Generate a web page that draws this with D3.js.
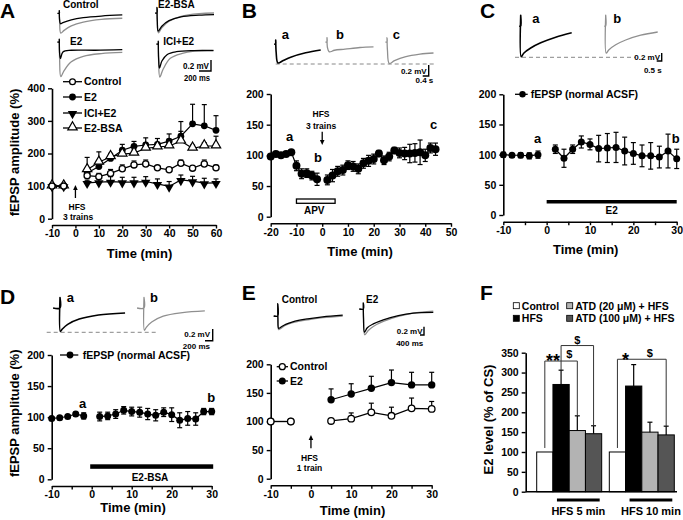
<!DOCTYPE html>
<html><head><meta charset="utf-8">
<script src="https://cdn.jsdelivr.net/npm/d3@7/dist/d3.min.js"></script>
<style>html,body{margin:0;padding:0;background:#fff;}</style>
</head><body>
<script>
// ================= DATA =================
// Panel A: fEPSP amplitude (%) vs time (min)
const timeA = [-10,-5,5,10,15,20,25,30,35,40,45,50,55,60];
const ctrlA    = [100,100,132,129,139,153,165,168,156,150,170,155,168,156];
const ctrlAErr = [0,0,10,10,12,12,12,12,6,5,10,8,12,8];
const e2A      = [100,100,140,160,185,210,222,226,228,238,253,291,285,271];
const e2AErr   = [0,0,10,15,15,18,15,22,18,22,45,60,65,45];
const iciA     = [100,100,110,112,114,112,112,114,107,99,119,115,109,110];
const iciAErr  = [0,0,8,15,15,15,15,15,15,15,15,15,15,12];
const bsaA     = [100,100,150,173,190,198,201,216,220,223,238,216,223,223];
const bsaAErr  = [0,0,38,32,10,10,10,12,10,10,30,10,10,30];
const legendA  = ["Control","E2","ICI+E2","E2-BSA"];

// Panel B
const timeB = [-20,-18,-16,-14,-12,-10,-8,-6,-4,-2,2,4,6,8,10,12,14,16,18,20,22,24,26,28,30,32,34,36,38,40,42,44];
const valB  = [98,102,100,102,105,83,70,71,67,61,60,67,74,76,84,82,78,87,91,94,103,92,98,108,104,103,103,104,105,100,112,110];
const errB  = [4,3,3,3,3,8,8,7,7,10,8,10,8,8,7,8,8,8,9,8,5,7,7,5,8,10,15,15,20,10,8,10];

// Panel C
const timeC = [-10,-8,-6,-4,-2,2,4,6,8,10,12,14,16,18,20,22,24,26,28,30];
const valC  = [100,99,99,98,100,109,94,109,121,117,110,111,112,106,102,98,98,96,106,93];
const errC  = [4,3,4,5,6,7,15,7,10,9,22,24,25,23,18,18,22,18,28,16];

// Panel D
const timeD = [-10,-8,-6,-4,-2,2,4,6,8,10,12,14,16,18,20,22,24,26,28,30];
const valD  = [98,99,101,105,102,101,102,105,111,109,108,105,103,108,104,95,98,97,109,109];
const errD  = [3,3,3,3,5,7,6,7,6,7,8,9,9,7,11,12,11,10,5,5];

// Panel E
const timeE    = [-10,-5,5,10,15,20,25,30];
const ctrlE    = [100,100,101,105,116,110,123,122];
const ctrlEErr = [0,0,4,10,16,15,18,13];
const e2E      = [100,100,138,148,158,168,164,164];
const e2EErr   = [0,0,19,18,21,22,22,22];

// Panel F: E2 level (% of CS)
const groupsF = ["HFS 5 min","HFS 10 min"];
const condF   = ["Control","HFS","ATD (20 \u03bcM) + HFS","ATD (100 \u03bcM) + HFS"];
const valF    = [[100,270,154,146],[100,266,150,143]];
const errF    = [[0,36,37,20],[0,54,25,22]];

// Example traces: [time (ms), amplitude (mV)]
const trA_ctrl_k = [[-30,0],[0,0],[0,0.05],[5,-0.12],[20,-0.19],[60,-0.17],[200,-0.12],[400,-0.08],[700,-0.05],[1050,-0.03]];
const trA_ctrl_g = [[-30,0],[0,0],[0,0.05],[5,-0.15],[25,-0.36],[80,-0.31],[200,-0.23],[400,-0.16],[700,-0.11],[1050,-0.09]];
const trA_bsa_k  = [[-30,0],[0,0],[0,0.1],[5,-0.15],[20,-0.33],[80,-0.24],[200,-0.14],[400,-0.07],[700,-0.04],[950,-0.03]];
const trA_bsa_g  = [[-30,0],[0,0],[0,0.1],[5,-0.15],[25,-0.36],[80,-0.27],[200,-0.15],[400,-0.06],[700,-0.01],[950,0]];
const trA_e2_k   = [[-30,0],[0,0],[0,0.05],[5,-0.2],[20,-0.3],[60,-0.18],[200,-0.15],[600,-0.15],[1050,-0.14]];
const trA_e2_g   = [[-30,0],[0,0],[0,0.05],[5,-0.3],[25,-0.63],[80,-0.52],[200,-0.36],[400,-0.26],[700,-0.21],[1050,-0.19]];
const trA_ici_k  = [[-30,0],[0,0],[0,0.05],[5,-0.25],[20,-0.44],[60,-0.31],[150,-0.19],[300,-0.14],[600,-0.12],[920,-0.12]];
const trA_ici_g  = [[-30,0],[0,0],[0,0.05],[5,-0.3],[25,-0.6],[80,-0.46],[200,-0.26],[400,-0.17],[600,-0.13],[920,-0.11]];
const trB_a = [[-100,0],[0,0],[0,0.07],[30,-0.15],[150,-0.345],[500,-0.3],[1000,-0.24],[2000,-0.16],[3000,-0.11]];
const trB_b = [[-100,0],[0,0],[0,0.08],[30,-0.1],[150,-0.18],[500,-0.15],[1200,-0.13],[2200,-0.1],[3100,-0.09]];
const trB_c = [[-100,0],[0,0],[0,0.08],[30,-0.15],[150,-0.39],[500,-0.34],[1200,-0.27],[2200,-0.22],[3100,-0.2]];
const trC_a = [[-150,0],[0,0],[0,0.27],[50,-0.77],[300,-0.68],[1000,-0.55],[2000,-0.42],[3500,-0.28],[5100,-0.17]];
const trC_b = [[-150,0],[0,0],[0,0.27],[50,-0.68],[300,-0.6],[1000,-0.47],[2000,-0.35],[3500,-0.23],[5200,-0.15]];
const trD_a = [[-180,0],[0,0],[0,0.18],[10,-0.4],[60,-0.36],[200,-0.28],[500,-0.19],[1000,-0.12],[1690,-0.085]];
const trD_b = [[-180,0],[0,0],[0,0.18],[10,-0.38],[60,-0.33],[200,-0.24],[500,-0.14],[1000,-0.08],[1580,-0.05]];
const trE_ctrl_k = [[-400,0],[0,0],[0,0.3],[20,-0.05],[100,-0.3],[300,-0.27],[800,-0.2],[1500,-0.14],[3000,-0.07],[4500,-0.02],[6500,0.02]];
const trE_ctrl_g = [[-400,0],[0,0],[0,0.3],[20,-0.08],[100,-0.33],[300,-0.3],[800,-0.22],[1500,-0.16],[3000,-0.09],[4500,-0.04],[6500,0]];
const trE_e2_k = [[-400,0],[0,0],[0,0.15],[20,-0.2],[120,-0.56],[400,-0.45],[1000,-0.36],[2000,-0.26],[3500,-0.16],[5000,-0.1],[7000,-0.08]];
const trE_e2_g = [[-400,0],[0,0],[0,0.15],[20,-0.25],[150,-0.62],[500,-0.52],[1000,-0.42],[2000,-0.3],[3500,-0.18],[5000,-0.1],[7000,-0.05]];

// ================= DRAWING =================
const FONT = "'Liberation Sans', Arial, Helvetica, sans-serif";
const svg = d3.select('body').append('svg').attr('width',683).attr('height',520)
  .style('display','block').attr('font-family',FONT);
svg.append('rect').attr('width',683).attr('height',520).attr('fill','#fff');

function text(x,y,s,size,anchor='start',rot=0,len=null){
  const t = svg.append('text').attr('font-size',size).attr('font-weight','bold')
    .attr('text-anchor',anchor).attr('fill','#000').text(s);
  if(rot) t.attr('transform',`translate(${x},${y}) rotate(${rot})`); else t.attr('x',x).attr('y',y);
  if(len) t.attr('textLength',len).attr('lengthAdjust','spacingAndGlyphs');
  return t;
}
function styleAxis(g){
  g.attr('font-family',FONT).attr('font-size',10.5);
  g.select('.domain').attr('stroke','#000').attr('stroke-width',1.6);
  g.selectAll('.tick line').attr('stroke','#000').attr('stroke-width',1.4);
  g.selectAll('.tick text').attr('font-weight','bold').attr('fill','#000');
}
function axisY(x0,y,ticks){
  const g = svg.append('g').attr('transform',`translate(${x0},0)`)
    .call(d3.axisLeft(y).tickValues(ticks).tickSize(4).tickSizeOuter(0).tickPadding(3).tickFormat(d=>String(d)));
  styleAxis(g); return g;
}
function axisX(y0,x,ticks,labeled){
  const g = svg.append('g').attr('transform',`translate(0,${y0})`)
    .call(d3.axisBottom(x).tickValues(ticks).tickSize(3.5).tickSizeOuter(0).tickPadding(1.5)
      .tickFormat(d=>labeled.includes(d)?String(d):''));
  styleAxis(g); return g;
}
function marker(g,type,cx,cy,r){
  if(type==='dot') g.append('circle').attr('cx',cx).attr('cy',cy).attr('r',r).attr('fill','#000');
  else if(type==='open') g.append('circle').attr('cx',cx).attr('cy',cy).attr('r',r-0.5).attr('fill','#fff').attr('stroke','#000').attr('stroke-width',1.3);
  else {
    const sz = r*r*3.3;
    const p = g.append('path').attr('d',d3.symbol(d3.symbolTriangle,sz)());
    if(type==='triDown') p.attr('transform',`translate(${cx},${cy+0.8}) rotate(180)`).attr('fill','#000');
    else p.attr('transform',`translate(${cx},${cy-0.8})`).attr('fill','#fff').attr('stroke','#000').attr('stroke-width',1.2);
  }
}
function series(x,y,t,v,e,type,r,mode){
  const g = svg.append('g');
  const pts = t.map((d,i)=>({t:d,v:v[i],e:e[i]}));
  const line = d3.line().x(d=>x(d.t)).y(d=>y(d.v));
  [pts.filter(d=>d.t<0), pts.filter(d=>d.t>0)].forEach(seg=>{
    if(seg.length>1) g.append('path').attr('d',line(seg)).attr('fill','none').attr('stroke','#000').attr('stroke-width',1.2);
  });
  pts.forEach(d=>{
    if(d.e>0){
      const top=y(d.v+d.e), bot = mode==='both'? y(d.v-d.e) : y(d.v);
      g.append('line').attr('x1',x(d.t)).attr('x2',x(d.t)).attr('y1',top).attr('y2',bot).attr('stroke','#000').attr('stroke-width',1.2);
      g.append('line').attr('x1',x(d.t)-2.5).attr('x2',x(d.t)+2.5).attr('y1',top).attr('y2',top).attr('stroke','#000').attr('stroke-width',1.2);
      if(mode==='both') g.append('line').attr('x1',x(d.t)-2.5).attr('x2',x(d.t)+2.5).attr('y1',bot).attr('y2',bot).attr('stroke','#000').attr('stroke-width',1.2);
    }
  });
  pts.forEach(d=>marker(g,type,x(d.t),y(d.v),r));
}
function trace(data,x0,y0,pxMs,pxMv,color,sw){
  const xs = d3.scaleLinear().domain([0,1000]).range([x0,x0+1000*pxMs]);
  const ys = d3.scaleLinear().domain([0,1]).range([y0,y0-pxMv]);
  svg.append('path').attr('d',d3.line().x(d=>xs(d[0])).y(d=>ys(d[1])).curve(d3.curveCatmullRom.alpha(0.5))(data))
    .attr('fill','none').attr('stroke',color).attr('stroke-width',sw||1.3).attr('stroke-linejoin','round');
}
function scalebar(xr,yb,pxMs,pxMv,ms,mv){
  svg.append('path').attr('d',`M${xr-ms*pxMs},${yb}H${xr}V${yb-mv*pxMv}`).attr('fill','none').attr('stroke','#000').attr('stroke-width',1.4);
}
function dashed(x1,x2,y){
  svg.append('line').attr('x1',x1).attr('x2',x2).attr('y1',y).attr('y2',y).attr('stroke','#888').attr('stroke-width',1).attr('stroke-dasharray','4,3');
}
function arrow(x,yTail,yHead){
  const dir = yHead<yTail ? -1 : 1;
  svg.append('line').attr('x1',x).attr('x2',x).attr('y1',yTail).attr('y2',yHead-dir*3).attr('stroke','#000').attr('stroke-width',1.3);
  svg.append('path').attr('d',`M${x},${yHead}L${x-2.3},${yHead-dir*5}L${x+2.3},${yHead-dir*5}Z`).attr('fill','#000');
}
const GRAY = '#8f8f8f';

// ---------- Panel letters ----------
text(0,18.3,'A',21); text(241.7,18.3,'B',21); text(480,18.3,'C',21);
text(0,304,'D',21); text(241.7,300,'E',21); text(480,300,'F',21);

// ---------- Panel A ----------
{
  const x = d3.scaleLinear([-10,60],[52,216]);
  const y = d3.scaleLinear([0,400],[218.7,88.3]);
  axisY(52,y,[0,100,200,300,400]);
  axisX(225,x,[-10,0,10,20,30,40,50,60],[-10,0,10,20,30,40,50,60]);
  series(x,y,timeA,e2A,e2AErr,'dot',3.4,'up');
  series(x,y,timeA,iciA,iciAErr,'triDown',3.4,'up');
  series(x,y,timeA,bsaA,bsaAErr,'triUp',3.4,'up');
  series(x,y,timeA,ctrlA,ctrlAErr,'open',3.6,'up');
  const types=['open','dot','triDown','triUp'], rows=[81.7,97,113,128];
  legendA.forEach((s,i)=>{
    svg.append('line').attr('x1',63).attr('x2',82).attr('y1',rows[i]).attr('y2',rows[i]).attr('stroke','#000').attr('stroke-width',1.3);
    marker(svg,types[i],72.5,rows[i],3.4);
    text(84,rows[i]+3.7,s,10.5);
  });
  arrow(x(0),198,185);
  text(77,209.5,'HFS',8.5,'middle'); text(78,220,'3 trains',8.5,'middle');
  text(139.5,257.6,'Time (min)',13,'middle');
  text(19,152.5,'fEPSP amplitude (%)',13,'middle',-90);
  const pm=0.06, pv=55;
  trace(trA_ctrl_g,59.3,13.3,pm,pv,GRAY); trace(trA_ctrl_k,59.3,13.3,pm,pv,'#000');
  trace(trA_bsa_g,157,13,pm,pv,GRAY); trace(trA_bsa_k,157,13,pm,pv,'#000');
  trace(trA_e2_g,59.3,42,pm,pv,GRAY); trace(trA_e2_k,59.3,42,pm,pv,'#000');
  trace(trA_ici_g,158.3,44,pm,pv,GRAY); trace(trA_ici_k,158.3,44,pm,pv,'#000');
  text(63,8.3,'Control',10); text(158,8.3,'E2-BSA',10);
  text(70,45,'E2',10); text(163.3,45,'ICI+E2',10);
  scalebar(211,71,pm,pv,200,0.2);
  text(209,69.3,'0.2 mV',8.5,'end',0,26); text(210,81,'200 ms',8.5,'end',0,26);
}

// ---------- Panel B ----------
{
  const x = d3.scaleLinear([-20,50],[270.7,451]);
  const y = d3.scaleLinear([0,200],[216.7,94]);
  axisY(270.7,y,[0,50,100,150,200]);
  axisX(223.3,x,[-20,-10,0,10,20,30,40,50],[-20,-10,0,10,20,30,40,50]);
  svg.append('rect').attr('x',x(-10)).attr('y',199).attr('width',x(5)-x(-10)).attr('height',4.3)
    .attr('fill','#fff').attr('stroke','#000').attr('stroke-width',1.3);
  text(314.2,214.3,'APV',10,'middle');
  series(x,y,timeB,valB,errB,'dot',4,'both');
  arrow(x(0),131.7,145);
  text(321,116.7,'HFS',8.5,'middle'); text(321,128.5,'3 trains',8.5,'middle');
  text(286,140.7,'a',13); text(314,161.7,'b',13); text(430,129.3,'c',13);
  text(360,256,'Time (min)',13,'middle');
  const pm=0.015, pv=55;
  dashed(275.7,434,64);
  trace(trB_a,275.7,44,pm,pv,'#000',1.6);
  trace(trB_b,327,42,pm,pv,GRAY);
  trace(trB_c,387,42,pm,pv,GRAY);
  text(281.7,39.3,'a',13); text(336,39.3,'b',13); text(392.7,39.3,'c',13);
  scalebar(428.7,76,pm,pv,400,0.2);
  text(426.7,74,'0.2 mV',8,'end'); text(433.3,83.3,'0.4 s',8,'end');
}

// ---------- Panel C ----------
{
  const x = d3.scaleLinear([-10,30],[503.3,676.7]);
  const y = d3.scaleLinear([0,200],[215,94.3]);
  axisY(503.3,y,[0,50,100,150,200]);
  axisX(221.7,x,[-10,-5,0,5,10,15,20,25,30],[-10,0,10,20,30]);
  series(x,y,timeC,valC,errC,'dot',3.5,'both');
  svg.append('rect').attr('x',x(0)).attr('y',200).attr('width',x(30)-x(0)).attr('height',3.5).attr('fill','#000');
  text(611.7,213.5,'E2',10,'middle');
  svg.append('line').attr('x1',515).attr('x2',527.7).attr('y1',94.3).attr('y2',94.3).attr('stroke','#000').attr('stroke-width',1.3);
  marker(svg,'dot',522.5,94.3,3.2);
  text(530.7,98,'fEPSP (normal ACSF)',10.5);
  text(534,143.3,'a',13); text(671.7,143.3,'b',13);
  text(585.7,253.5,'Time (min)',13,'middle');
  const pm=0.01, pv=40;
  dashed(515,635,57.3);
  trace(trC_a,520.7,26,pm,pv,'#000',1.6);
  trace(trC_b,605.7,26,pm,pv,GRAY);
  text(532.3,22.7,'a',13); text(613.3,22.7,'b',13);
  scalebar(661.7,61,pm,pv,500,0.2);
  text(660,60,'0.2 mV',8,'end'); text(661.7,72.7,'0.5 s',8,'end');
}

// ---------- Panel D ----------
{
  const x = d3.scaleLinear([-10,30],[51.7,211.7]);
  const y = d3.scaleLinear([0,200],[479.3,355]);
  axisY(51.7,y,[0,50,100,150,200]);
  axisX(486,x,[-10,-5,0,5,10,15,20,25,30],[-10,0,10,20,30]);
  series(x,y,timeD,valD,errD,'dot',3.5,'both');
  svg.append('rect').attr('x',x(0)-1.5).attr('y',464.3).attr('width',x(30)-x(0)+3).attr('height',4.5).attr('fill','#000');
  text(150,481,'E2-BSA',10,'middle');
  svg.append('line').attr('x1',60).attr('x2',78.3).attr('y1',355).attr('y2',355).attr('stroke','#000').attr('stroke-width',1.3);
  marker(svg,'dot',70,355,3.4);
  text(82.7,358.7,'fEPSP (normal ACSF)',10.5);
  text(79,407.7,'a',13); text(207.3,401.7,'b',13);
  text(133,512,'Time (min)',13,'middle');
  text(19,413.3,'fEPSP amplitude (%)',13,'middle',-90);
  const pm=0.0385, pv=58.5;
  dashed(46.7,158,332.3);
  trace(trD_a,60,308,pm,pv,'#000',1.6);
  trace(trD_b,144,308,pm,pv,GRAY);
  text(66.7,302.3,'a',13); text(150,302.3,'b',13);
  scalebar(212.7,340.7,pm,pv,200,0.2);
  text(210,337,'0.2 mV',8,'end'); text(210,348.5,'200 ms',8,'end');
}

// ---------- Panel E ----------
{
  const x = d3.scaleLinear([-10,30],[270.7,431.7]);
  const y = d3.scaleLinear([0,200],[478.7,364.3]);
  axisY(270.7,y,[0,50,100,150,200]);
  axisX(485.3,x,[-10,-5,0,5,10,15,20,25,30],[-10,0,10,20,30]);
  series(x,y,timeE,e2E,e2EErr,'dot',3.7,'up');
  series(x,y,timeE,ctrlE,ctrlEErr,'open',3.8,'up');
  [['Control','open',366.7],['E2','dot',381]].forEach(([s,t,yy])=>{
    svg.append('line').attr('x1',276.7).attr('x2',288).attr('y1',yy).attr('y2',yy).attr('stroke','#000').attr('stroke-width',1.3);
    marker(svg,t,282.3,yy,3.5);
    text(290,yy+3.7,s,10.5);
  });
  arrow(x(0),448.3,435);
  text(309.5,460.7,'HFS',8.5,'middle'); text(309.5,471,'1 train',8.5,'middle');
  text(352.5,515,'Time (min)',13,'middle');
  const pm=0.01, pv=41.5;
  trace(trE_ctrl_g,277.7,316,pm,pv,GRAY); trace(trE_ctrl_k,277.7,316,pm,pv,'#000');
  trace(trE_e2_g,363.3,309,pm,pv,GRAY); trace(trE_e2_k,363.3,309,pm,pv,'#000');
  text(281.7,303.3,'Control',10); text(366,303.3,'E2',10);
  scalebar(424,335,pm,pv,400,0.2);
  text(422.5,334,'0.2 mV',8,'end'); text(423.3,345.7,'400 ms',8,'end');
}

// ---------- Panel F ----------
{
  const y = d3.scaleLinear([0,350],[491.7,352.7]);
  const x0 = d3.scaleBand().domain(groupsF).range([536.7,674.3]).paddingInner(0.105).paddingOuter(0);
  const x1 = d3.scaleBand().domain(condF).range([0,x0.bandwidth()]);
  const fills = ['#fff','#000','#b3b3b3','#555'];
  const cx = (gi,ci)=> x0(groupsF[gi]) + x1(condF[ci]) + x1.bandwidth()/2;
  groupsF.forEach((gname,gi)=>{
    condF.forEach((c,ci)=>{
      const v = valF[gi][ci], e = errF[gi][ci];
      svg.append('rect').attr('x',x0(gname)+x1(c)).attr('y',y(v)).attr('width',x1.bandwidth()).attr('height',y(0)-y(v))
        .attr('fill',fills[ci]).attr('stroke','#000').attr('stroke-width',1);
      if(e>0){
        const xc=cx(gi,ci);
        svg.append('line').attr('x1',xc).attr('x2',xc).attr('y1',y(v)).attr('y2',y(v+e)).attr('stroke','#000').attr('stroke-width',1.2);
        svg.append('line').attr('x1',xc-2.5).attr('x2',xc+2.5).attr('y1',y(v+e)).attr('y2',y(v+e)).attr('stroke','#000').attr('stroke-width',1.2);
      }
    });
    const xa = x0(gname)+x1(condF[1])+4, xb = x0(gname)+x0.bandwidth()-2;
    svg.append('rect').attr('x',xa).attr('y',498.5).attr('width',xb-xa).attr('height',3).attr('fill','#000');
    text((xa+xb)/2,514.6,gname,11,'middle');
  });
  axisY(525.7,y,[0,50,100,150,200,250,300,350]);
  svg.append('line').attr('x1',525.7).attr('x2',677).attr('y1',y(0)).attr('y2',y(0)).attr('stroke','#000').attr('stroke-width',1.6);
  const bl = (pts)=> svg.append('path').attr('d',d3.line()(pts)).attr('fill','none').attr('stroke','#333').attr('stroke-width',1);
  const top = (gi,ci)=> y(valF[gi][ci]+errF[gi][ci]) - (errF[gi][ci]>0?0:4);
  bl([[cx(0,0),top(0,0)],[cx(0,0),y(329)],[cx(0,2),y(329)],[cx(0,2),top(0,2)]]);
  bl([[cx(0,1),y(329)],[cx(0,1),y(368)],[cx(0,3),y(368)],[cx(0,3),top(0,3)]]);
  bl([[cx(0,1),y(329)],[cx(0,1),top(0,1)]]);
  bl([[cx(1,0),top(1,0)],[cx(1,0),y(333.5)],[cx(1,3),y(333.5)],[cx(1,3),top(1,3)]]);
  text((cx(0,0)+cx(0,1))/2,367,'**',18,'middle');
  text((cx(0,1)+cx(0,2))/2,358,'$',11,'middle');
  text((cx(0,1)+cx(0,3))/2,343.5,'$',11,'middle');
  text((cx(1,0)+cx(1,1))/2,365.5,'*',18,'middle');
  text((cx(1,1)+cx(1,3))/2,357,'$',11,'middle');
  const lg = [[0,513.3,305.7],[1,513.3,318.3],[2,566.7,305.7],[3,566.7,318.3]];
  lg.forEach(([ci,lx,ly])=>{
    svg.append('rect').attr('x',lx).attr('y',ly-3).attr('width',6).attr('height',6).attr('fill',fills[ci]).attr('stroke','#000').attr('stroke-width',0.8);
    text(lx+8.5,ly+3.8,condF[ci],10.5);
  });
  text(493,419.5,'E2 level (% of CS)',13,'middle',-90);
}
</script>
</body></html>
